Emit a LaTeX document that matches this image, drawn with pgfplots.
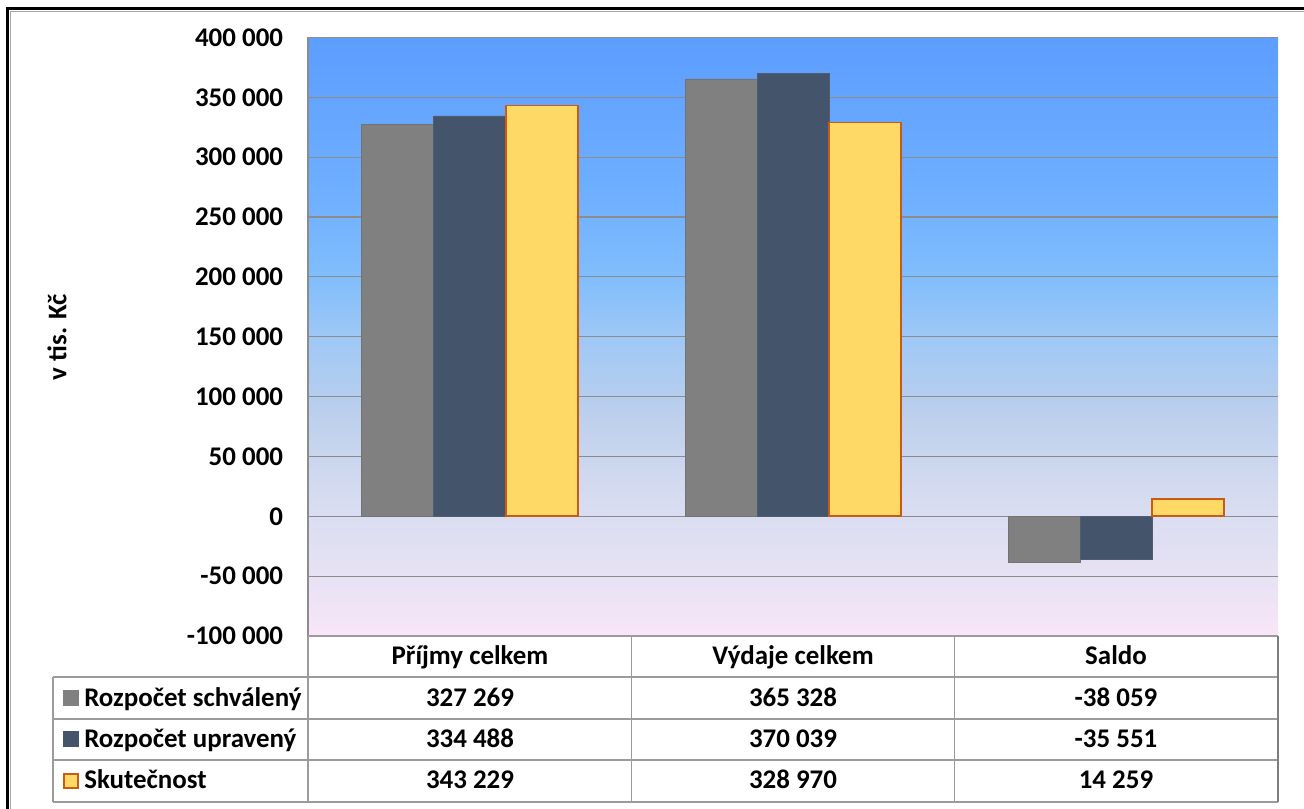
\documentclass[border=0pt]{standalone}
\usepackage{pgfplots}
\pgfplotsset{compat=1.18}
\usepackage{fontspec}
\setmainfont{Carlito}
\definecolor{cgray}{RGB}{128,128,128}
\definecolor{cnavy}{RGB}{68,84,106}
\definecolor{cyel}{RGB}{255,217,102}
\definecolor{corange}{RGB}{200,92,22}
\definecolor{cgrid}{RGB}{140,140,140}
\definecolor{ctab}{RGB}{155,155,155}
\pgfdeclareverticalshading{plotbg}{100bp}{
rgb(0bp)=(0.973,0.902,0.973);
rgb(25bp)=(0.973,0.902,0.973);
rgb(29.7bp)=(0.910,0.886,0.957);
rgb(36.35bp)=(0.843,0.863,0.941);
rgb(43.05bp)=(0.745,0.816,0.925);
rgb(49.75bp)=(0.627,0.784,0.961);
rgb(54.75bp)=(0.510,0.745,0.988);
rgb(61.3bp)=(0.439,0.690,1.0);
rgb(75bp)=(0.361,0.616,1.0);
rgb(100bp)=(0.361,0.616,1.0)}
\newcommand\tf{\fontsize{20.2}{24}\selectfont\bfseries}
\begin{document}
\begin{tikzpicture}[x=0.75pt,y=0.75pt, cell/.style={font=\tf, anchor=base, inner sep=0pt}, lcell/.style={font=\tf, anchor=base west, inner sep=0pt}]
\useasboundingbox (0,0) rectangle (1304,809);
\fill[white] (0,0) rectangle (1304,809);
\begin{axis}[
  at={(231pt,129.75pt)}, anchor=south west,
  scale only axis, width=727.5pt, height=448.875pt,
  xmin=-0.5, xmax=2.5, ymin=-100000, ymax=400000,
  xtick=\empty,
  scaled y ticks=false,
  ytick={-100000,-50000,0,50000,100000,150000,200000,250000,300000,350000,400000},
  yticklabels={-100 000,-50 000,0,50 000,100 000,150 000,200 000,250 000,300 000,350 000,400 000},
  yticklabel style={font=\tf, anchor=east, inner sep=0pt, xshift=-18.5pt},
  major tick length=0pt,
  ymajorgrids, major grid style={cgrid, line width=0.9pt},
  axis line style={draw=none},
  axis background/.style={shading=plotbg},
  clip=false,
]
\addplot[ybar, bar width=54pt, bar shift=-54pt, fill=cgray, draw=cgray!90!black, line width=0.5pt] coordinates {(0,327269) (1,365328) (2,-38059)};
\addplot[ybar, bar width=54pt, bar shift=0pt, fill=cnavy, draw=cnavy!80!gray, line width=0.5pt] coordinates {(0,334488) (1,370039) (2,-35551)};
\addplot[ybar, bar width=54pt, bar shift=54pt, fill=cyel, draw=corange, line width=1.4pt] coordinates {(0,343229) (1,328970) (2,14259)};
\draw[cgrid, line width=0.9pt] (rel axis cs:0,0) -- (rel axis cs:0,1);
\end{axis}
% y label
\node[rotate=90, font=\tf] at (57,472) {v tis. Kč};
% table lines
\begin{scope}[ctab, line width=1.1pt]
\draw (308,173) -- (1278,173);
\draw (53,132) -- (1278,132);
\draw (53,90) -- (1278,90);
\draw (53,49) -- (1278,49);
\draw (53,7) -- (1278,7);
\draw (53,132) -- (53,7);
\draw (308,173) -- (308,7);
\draw (631.7,173) -- (631.7,7);
\draw (954.5,173) -- (954.5,7);
\draw[cgrid!90!black] (1278,173) -- (1278,7);
\end{scope}
% header
\node[cell] at (470,144.5) {Příjmy celkem};
\node[cell] at (793,144.5) {Výdaje celkem};
\node[cell] at (1116,144.5) {Saldo};
% values
\node[cell] at (470,102.5) {327 269};
\node[cell] at (793,102.5) {365 328};
\node[cell] at (1116,102.5) {-38 059};
\node[cell] at (470,61.3) {334 488};
\node[cell] at (793,61.3) {370 039};
\node[cell] at (1116,61.3) {-35 551};
\node[cell] at (470,20) {343 229};
\node[cell] at (793,20) {328 970};
\node[cell] at (1116,20) {14 259};
% legend keys
\fill[cgray] (63,102.5) rectangle (79,118.5);
\fill[cnavy] (63,61.5) rectangle (79,77.5);
\filldraw[fill=cyel, draw=corange, line width=1.3pt] (63.8,20.8) rectangle (78.2,35.2);
\node[lcell] at (84,102.5) {Rozpočet schválený};
\node[lcell] at (84,61.3) {Rozpočet upravený};
\node[lcell] at (84,20) {Skutečnost};
% outer frame
\draw[gray!70, line width=0.75pt] (10.8,-100) -- (10.8,797.2) -- (1400,797.2);
\draw[black, line width=2.6pt] (7.5,-100) -- (7.5,800.5) -- (1400,800.5);
\end{tikzpicture}
\end{document}
